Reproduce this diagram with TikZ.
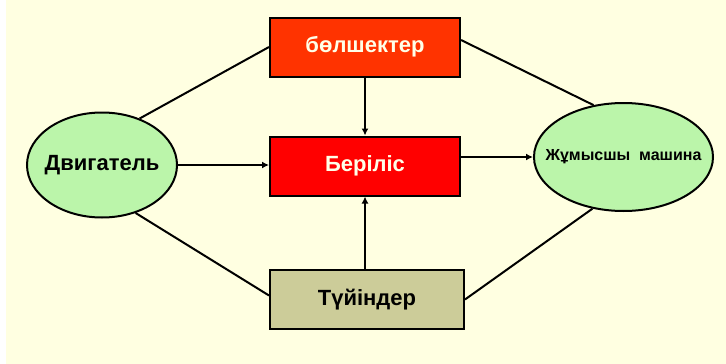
\documentclass[tikz,border=0pt]{standalone}
\usepackage{fontspec}
\setmainfont{Liberation Sans}
\usetikzlibrary{shapes.geometric,arrows.meta,calc}

\definecolor{paper}{HTML}{FFFFE1}
\definecolor{partsred}{HTML}{FF3300}
\definecolor{gearred}{HTML}{FF0000}
\definecolor{unitkhaki}{HTML}{CCCC99}
\definecolor{oval}{HTML}{BBF5AA}
\definecolor{cream}{HTML}{FFFFE8}

\tikzset{
  blockbox/.style={draw=black, line width=2pt, minimum width=190pt, minimum height=59pt,
                   inner sep=0pt, font=\bfseries\fontsize{22}{26}\selectfont},
  ovalbox/.style={ellipse, draw=black, line width=2pt, fill=oval, inner sep=0pt},
  link/.style={draw=black, line width=2pt},
  arrowlink/.style={link, -{Latex[length=7pt,width=7pt]}}
}

\begin{document}
\begin{tikzpicture}[x=1pt, y=-1pt]
  % page and background
  \useasboundingbox (0,0) rectangle (726,364);
  \fill[white] (0,0) rectangle (726,364);
  \fill[paper] (6,0) rectangle (726,364);

  % blocks
  \node[blockbox, fill=partsred, text=cream] (parts) at (365,47) {бөлшектер};
  \node[blockbox, fill=gearred, text=cream] (gear) at (365,166) {Беріліс};
  \node[blockbox, fill=unitkhaki, text=black, minimum width=194pt] (units) at (367,299.5) {Түйіндер};

  % ovals: the outline is sized by hand, the caption sits on top as a centred label
  \node[ovalbox, minimum width=150pt, minimum height=105pt,
        label={[font=\bfseries\fontsize{22}{26}\selectfont]center:Двигатель}] (engine) at (102,165) {};
  \node[ovalbox, minimum width=179pt, minimum height=108pt,
        label={[font=\bfseries\fontsize{16}{20}\selectfont]center:Жұмысшы\ \ машина}] (machine) at (623.5,157) {};

  % plain links
  \draw[link] (engine.51) -- (parts.west);
  \draw[link] ([yshift=7pt]parts.east) -- (machine.120);
  \draw[link] (engine.-55) -- ([yshift=4pt]units.west);
  \draw[link] (units.east) -- (machine.-121);

  % arrows into and out of the transmission
  \draw[arrowlink] (parts.south) -- (gear.north);
  \draw[arrowlink] (units.north -| gear.south) -- (gear.south);
  \draw[arrowlink] (engine.east) -- (engine.east -| gear.west);
  \draw[arrowlink] (machine.west -| gear.east) -- (machine.west);
\end{tikzpicture}
\end{document}
